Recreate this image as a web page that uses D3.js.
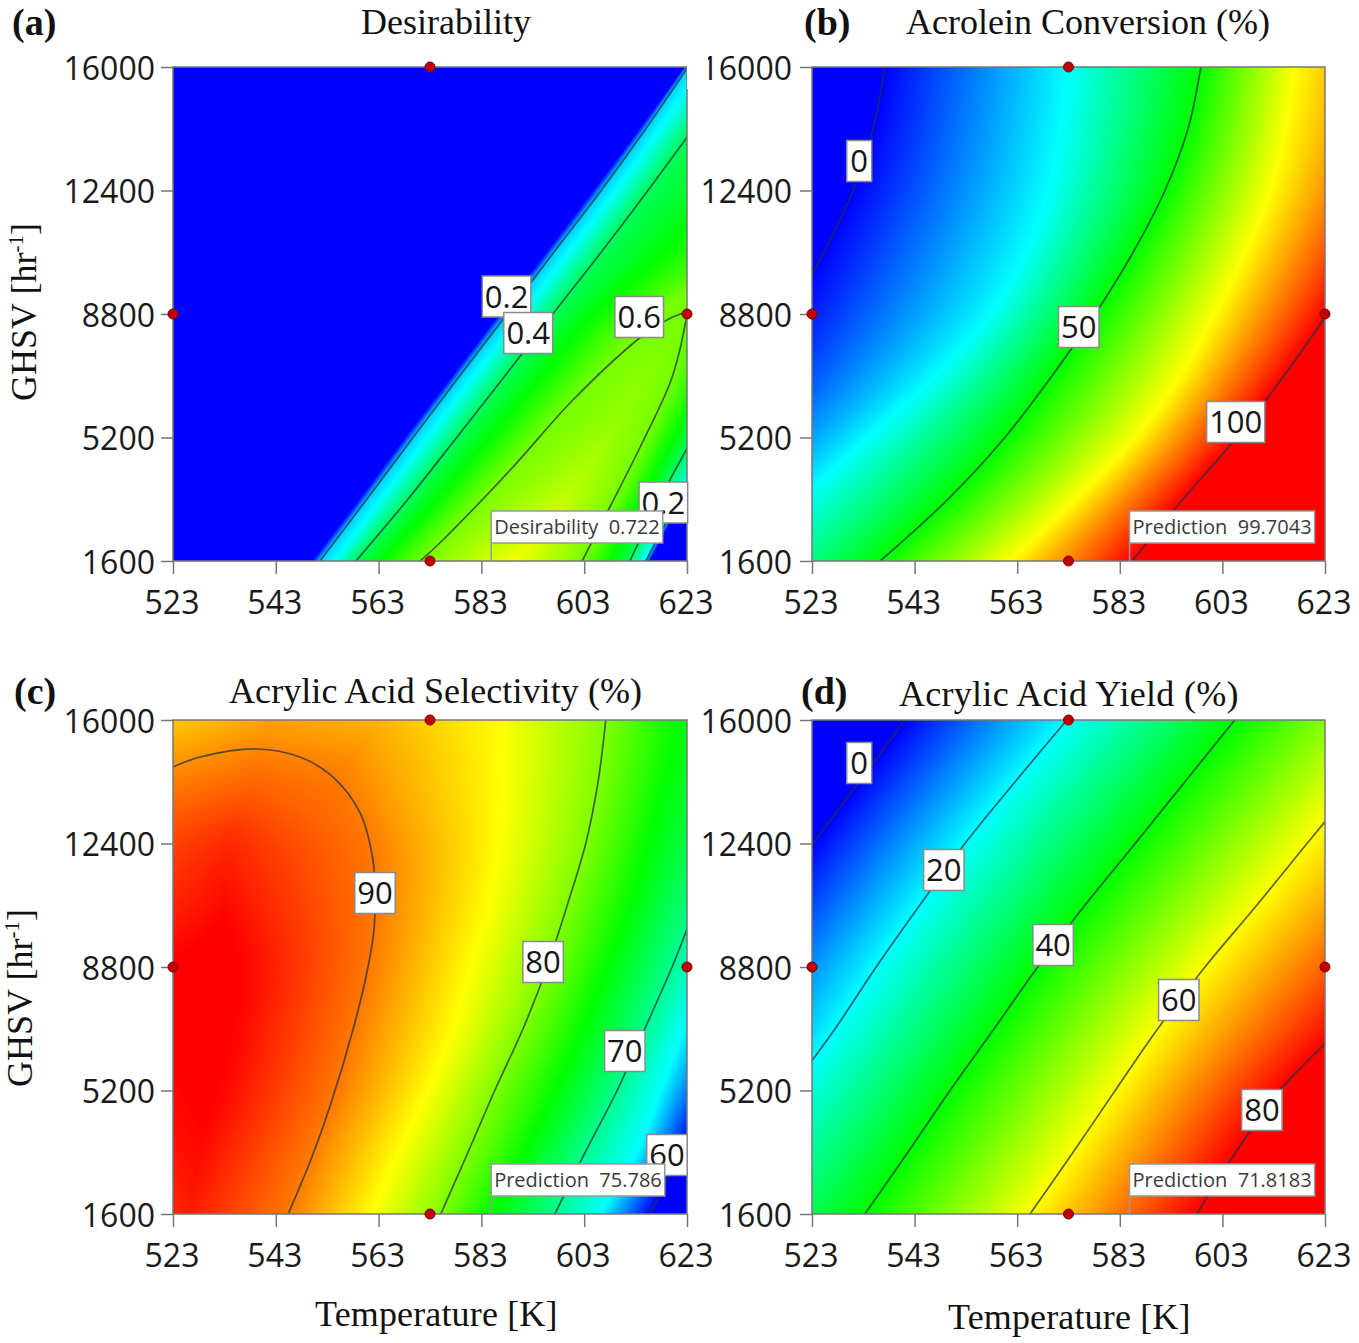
<!DOCTYPE html>
<html>
<head>
<meta charset="utf-8">
<script src="https://cdn.jsdelivr.net/npm/d3@7"></script>
<style>
html,body{margin:0;padding:0;background:#fff;}
svg{display:block;}
</style>
</head>
<body>
<svg id="chart" width="1359" height="1343"></svg>
<script>
// ---------- axes ----------
const temperatureTicks = [523, 543, 563, 583, 603, 623];
const ghsvTicks = [1600, 5200, 8800, 12400, 16000];
const designPoints = [[573, 1600], [573, 16000], [523, 8800], [623, 8800]];
const ghsvRows = [1600, 3400, 5200, 7000, 8800, 10600, 12400, 14200, 16000];

// ---------- (a) Desirability: temperature of each iso-value per GHSV row ----------
const desirabilityStops = [0, 0.25, 0.48, 0.74, 0.98];
const aZeroLeft   = [550.0, 559.2, 568.1, 577.3, 586.4, 595.6, 604.7, 613.7, 622.4];
const a02Left     = [551.6, 560.7, 569.7, 578.8, 588.0, 597.1, 606.3, 615.0, 623.2];
const a025Left    = [554.3, 563.4, 572.4, 581.5, 590.7, 599.8, 609.0, 617.6, 625.5];
const a04Left     = [558.6, 568.7, 578.2, 587.6, 596.9, 606.3, 615.4, 624.2, 632.9];
const a06Left     = [571.2, 582.7, 594.2, 605.5, 616.8, 636.0, 650.8, 664.4, 678.1];
const aRidge      = [589.5, 599.2, 607.3, 614.8, 623.4, 639.1, 652.8, 666.4, 680.0];
const aRidgeValue = [0.73, 0.68, 0.64, 0.62, 0.60, 0.60, 0.60, 0.60, 0.60];
const a06Right    = [602.6, 609.0, 614.8, 620.1, 623.8, 641.1, 654.7, 668.3, 682.0];
const a04Right    = [611.9, 617.7, 624.2, 631.4, 639.1, 650.8, 664.4, 678.1, 691.7];
const a025Right   = [614.6, 621.0, 629.4, 637.6, 646.0, 656.7, 670.3, 683.9, 697.5];
const a02Right    = [615.0, 621.6, 630.4, 638.2, 646.9, 657.6, 671.2, 684.9, 698.5];
const aZeroRight  = [615.8, 622.4, 631.4, 639.1, 647.9, 658.6, 672.2, 685.8, 699.5];
const a06ContourT = [571.1, 574.9, 588.6, 600.8, 613.3, 617.7, 621.2, 623.0, 622.6, 621.6, 619.7, 613.9, 608.0, 602.6];
const a06ContourG = [1600, 2125, 4253, 6293, 8042, 8508, 8771, 8829, 8479, 7751, 6789, 4923, 3174, 1600];

// ---------- (b) Acrolein conversion ----------
const conversionStops = [0, 25, 50, 75, 100];
const b0   = [485.6, 494.4, 503.1, 511.3, 518.7, 525.3, 531.0, 534.9, 537.2];
const b25  = [509.0, 520.7, 533.9, 547.0, 557.7, 564.5, 569.0, 571.3, 572.9];
const b50  = [536.3, 549.5, 560.6, 569.8, 578.2, 585.6, 591.8, 596.3, 598.8];
const b75  = [561.6, 574.3, 586.0, 594.7, 601.5, 607.4, 612.3, 615.2, 617.1];
const b100 = [585.4, 595.3, 605.8, 615.0, 623.4, 630.8, 637.6, 643.5, 647.3];

// ---------- (c) Acrylic acid selectivity ----------
const selectivityStops = [60, 66, 75, 85, 94.5];
const cLeftEdge     = [523, 523, 523, 523, 523, 523, 523, 523, 523];
const cLeftValue    = [93.0, 93.8, 94.3, 94.5, 94.5, 93.2, 92.0, 89.8, 87.0];
const cRidge        = [526.3, 528.3, 530.2, 531.2, 532.1, 533.1, 534.1, 538.0, 541.9];
const cRidgeValue   = [93.5, 94.2, 94.8, 95.2, 95.2, 94.2, 93.0, 90.7, 88.5];
const c90Side       = [545.4, 549.8, 554.9, 558.2, 561.1, 562.3, 561.3, 555.1, 563.3];
const c90SideValue  = [90, 90, 90, 90, 90, 90, 90, 90, 87.8];
const c85 = [561.7, 566.8, 572.6, 577.5, 580.8, 584.3, 586.4, 587.0, 587.0];
const c80 = [575.1, 580.4, 585.6, 591.1, 595.8, 599.7, 603.3, 605.7, 607.2];
const c75 = [584.7, 591.5, 597.3, 602.8, 607.4, 611.9, 615.4, 618.7, 621.6];
const c70 = [597.3, 603.2, 609.4, 614.8, 620.1, 624.9, 630.4, 635.3, 639.1];
const c66 = [606.1, 613.3, 617.9, 622.4, 627.5, 633.3, 639.1, 645.0, 650.8];
const c60 = [615.8, 621.8, 627.9, 634.3, 641.1, 647.9, 654.7, 661.5, 668.3];
const c90ContourT = [523, 528.3, 539.3, 547.7, 554.1, 559.4, 561.9, 562.3, 562.1, 560.7, 558.0, 553.5, 549.8, 545.4];
const c90ContourG = [14630, 14920, 15155, 14920, 14340, 13290, 11920, 10957, 9879, 8625, 6964, 4719, 3174, 1600];

// ---------- (d) Acrylic acid yield ----------
const yieldStops = [0, 20, 40, 60, 80];
const d0  = [471.0, 479.7, 488.5, 497.3, 506.0, 514.8, 523.2, 532.2, 541.1];
const d20 = [501.2, 509.9, 518.7, 527.5, 535.5, 544.0, 552.8, 562.6, 572.7];
const d40 = [533.3, 541.7, 549.9, 558.5, 567.0, 576.2, 586.0, 595.7, 605.4];
const d60 = [565.5, 573.9, 582.1, 590.4, 599.6, 609.7, 619.5, 629.4, 639.6];
const d80 = [598.0, 605.6, 614.2, 625.9, 637.6, 649.3, 661.0, 672.7, 684.4];

// ---------- contour labels ----------
const aLabels = ["0.2", "0.4", "0.6", "0.2"];
const aLabelT = [587.9, 592.1, 613.7, 618.4];
const aLabelG = [9310, 8246, 8713, 3305];
const bLabels = ["0", "50", "100"];
const bLabelT = [532.2, 575.0, 605.6];
const bLabelG = [13260, 8421, 5652];
const cLabels = ["90", "80", "70", "60"];
const cLabelT = [562.3, 595.0, 610.9, 619.1];
const cLabelG = [10957, 8946, 6351, 3320];
const dLabels = ["0", "20", "40", "60", "80"];
const dLabelT = [532.2, 548.7, 570.0, 594.5, 610.7];
const dLabelG = [14747, 11628, 9441, 7838, 4632];

// ---------- texts ----------
const titles = ["Desirability", "Acrolein Conversion (%)", "Acrylic Acid Selectivity (%)", "Acrylic Acid Yield (%)"];
const panelTags = ["(a)", "(b)", "(c)", "(d)"];
const flagTexts = ["Desirability  0.722", "Prediction  99.7043", "Prediction  75.786", "Prediction  71.8183"];
const flagTemperature = 584.9;

// ---------- layout / style (not data) ----------
const spectrum = ["#0000ff", "#00ffff", "#00ff00", "#ffff00", "#ff0000"];
const rowConst = v => ghsvRows.map(() => v);
const panels = [
  { x0: 173, y0: 67, w: 514, stops: desirabilityStops, yPad: 6,
    knots: [[rowConst(0), aZeroLeft], [rowConst(0.2), a02Left], [rowConst(0.25), a025Left], [rowConst(0.4), a04Left],
            [rowConst(0.6), a06Left], [aRidgeValue, aRidge], [rowConst(0.6), a06Right], [rowConst(0.4), a04Right],
            [rowConst(0.25), a025Right], [rowConst(0.2), a02Right], [rowConst(0), aZeroRight]],
    lines: [a02Left, a04Left, a04Right, a02Right], extra: [a06ContourT, a06ContourG],
    labels: [aLabels, aLabelT, aLabelG], titleX: 361, titleY: 34, tagX: 12, tagY: 35, yTitle: [36, 312], ls: 0 },
  { x0: 812, y0: 67, w: 513, stops: conversionStops, yPad: 8, clipOne: true,
    knots: [[rowConst(0), b0], [rowConst(25), b25], [rowConst(50), b50], [rowConst(75), b75], [rowConst(100), b100]],
    lines: [b0, b50, b100],
    labels: [bLabels, bLabelT, bLabelG], titleX: 906, titleY: 34, tagX: 804, tagY: 35, ls: 0 },
  { x0: 173, y0: 720, w: 514, stops: selectivityStops, yPad: 6,
    knots: [[cLeftValue, cLeftEdge], [cRidgeValue, cRidge], [c90SideValue, c90Side], [rowConst(85), c85], [rowConst(80), c80],
            [rowConst(75), c75], [rowConst(70), c70], [rowConst(66), c66], [rowConst(60), c60]],
    lines: [c80, c70, c60], extra: [c90ContourT, c90ContourG],
    labels: [cLabels, cLabelT, cLabelG], titleX: 229, titleY: 703, tagX: 14, tagY: 704, yTitle: [32, 998], xTitle: [315, 1326], ls: 0.08 },
  { x0: 812, y0: 720, w: 513, stops: yieldStops, yPad: 8,
    knots: [[rowConst(0), d0], [rowConst(20), d20], [rowConst(40), d40], [rowConst(60), d60], [rowConst(80), d80]],
    lines: [d0, d20, d40, d60, d80],
    labels: [dLabels, dLabelT, dLabelG], titleX: 899, titleY: 706, tagX: 801, tagY: 704, xTitle: [948, 1329], ls: 0.28 }
];
const plotH = 494;
const SERIF = '"Liberation Serif","Times New Roman",serif';
const SANS = '"Open Sans",sans-serif';
const svg = d3.select("#chart");

// Catmull-Rom evaluation of a per-row list at a GHSV value
function alongRows(list, g) {
  const step = ghsvRows[1] - ghsvRows[0];
  const u = (g - ghsvRows[0]) / step;
  const i = Math.max(0, Math.min(list.length - 2, Math.floor(u)));
  const t = u - i;
  const p1 = list[i], p2 = list[i + 1];
  const p0 = i > 0 ? list[i - 1] : 2 * p1 - p2;
  const p3 = i + 2 < list.length ? list[i + 2] : 2 * p2 - p1;
  return 0.5 * (2 * p1 + (p2 - p0) * t + (2 * p0 - 5 * p1 + 4 * p2 - p3) * t * t + (3 * p1 - p0 - 3 * p2 + p3) * t * t * t);
}

panels.forEach((p, idx) => {
  const x = d3.scaleLinear().domain([523, 623]).range([p.x0, p.x0 + p.w]);
  const y = d3.scaleLinear().domain([1600, 16000]).range([p.y0 + plotH, p.y0]);
  const colour = d3.scaleLinear().domain(p.stops).range(spectrum).clamp(true);

  // colour field
  const cv = document.createElement("canvas");
  cv.width = p.w; cv.height = plotH;
  const ctx = cv.getContext("2d");
  const img = ctx.createImageData(p.w, plotH);
  for (let j = 0; j < plotH; j++) {
    const g = y.invert(p.y0 + j + 0.5);
    const ks = p.knots.map(k => [alongRows(k[1], g), alongRows(k[0], g)]);
    for (let i = 0; i < p.w; i++) {
      const T = x.invert(p.x0 + i + 0.5);
      let z;
      if (T <= ks[0][0]) z = ks[0][1];
      else if (T >= ks[ks.length - 1][0]) z = ks[ks.length - 1][1];
      else {
        let m = 0;
        while (m < ks.length - 2 && T > ks[m + 1][0]) m++;
        const span = ks[m + 1][0] - ks[m][0];
        const f = span > 1e-6 ? (T - ks[m][0]) / span : 0;
        z = ks[m][1] + (ks[m + 1][1] - ks[m][1]) * f;
      }
      const c = d3.rgb(colour(z));
      const o = (j * p.w + i) * 4;
      img.data[o] = c.r; img.data[o + 1] = c.g; img.data[o + 2] = c.b; img.data[o + 3] = 255;
    }
  }
  ctx.putImageData(img, 0, 0);
  svg.append("image").attr("x", p.x0).attr("y", p.y0).attr("width", p.w).attr("height", plotH)
     .attr("href", cv.toDataURL("image/png"));

  // clip
  const clipId = "clip" + idx;
  svg.append("clipPath").attr("id", clipId).append("rect")
     .attr("x", p.x0).attr("y", p.y0).attr("width", p.w).attr("height", plotH);

  // contours
  const line = d3.line().x(d => x(d[0])).y(d => y(d[1])).curve(d3.curveCatmullRom);
  const gC = svg.append("g").attr("clip-path", `url(#${clipId})`);
  const paths = p.lines.map(l => l.map((T, i) => [T, ghsvRows[i]]));
  if (p.extra) paths.push(p.extra[0].map((T, i) => [T, p.extra[1][i]]));
  gC.selectAll("path").data(paths).join("path")
    .attr("d", line).attr("fill", "none")
    .attr("stroke", "rgba(35,50,70,0.75)").attr("stroke-width", 1.7);

  // frame
  svg.append("rect").attr("x", p.x0).attr("y", p.y0).attr("width", p.w).attr("height", plotH)
     .attr("fill", "none").attr("stroke", "#777").attr("stroke-width", 1.5);

  // axes
  const xAxis = d3.axisBottom(x).tickValues(temperatureTicks).tickSize(13).tickPadding(17).tickFormat(d3.format("d"));
  const yAxis = d3.axisLeft(y).tickValues(ghsvTicks).tickSize(12).tickPadding(p.yPad).tickFormat(d3.format("d"));
  const gx = svg.append("g").attr("transform", `translate(0,${p.y0 + plotH})`).call(xAxis);
  const gy = svg.append("g").attr("transform", `translate(${p.x0},0)`).call(yAxis);
  [gx, gy].forEach(a => {
    a.select(".domain").remove();
    a.selectAll("line").attr("stroke", "#777").attr("stroke-width", 1.5);
    a.selectAll("text").attr("font-family", SANS).attr("font-size", 32).attr("fill", "#1a1a1a");
  });
  gx.selectAll("text").attr("dx", -1.5);
  gy.selectAll("text").attr("dy", "0.39em");
  if (p.clipOne) {
    // the first digit of the top tick is cut in the source figure
    svg.append("rect").attr("x", p.x0 - 125).attr("y", y(16000) - 22).attr("width", 21).attr("height", 13).attr("fill", "#fff");
    svg.append("rect").attr("x", p.x0 - 125).attr("y", y(16000) - 22).attr("width", 21).attr("height", 44).attr("fill", "#fff");
  }

  // contour labels
  p.labels[0].forEach((s, i) => {
    const cx = x(p.labels[1][i]), cy = y(p.labels[2][i]);
    const g = svg.append("g");
    const t = g.append("text").attr("x", cx).attr("y", cy).attr("text-anchor", "middle").attr("dy", "0.36em")
      .attr("font-family", SANS).attr("font-size", 31).attr("fill", "#161616").text(s);
    const bb = t.node().getBBox();
    const bw = s.length === 1 ? 25 : bb.width + 5;
    g.insert("rect", "text").attr("x", cx - bw / 2).attr("y", cy - 20.5).attr("width", bw).attr("height", 41)
      .attr("fill", "#fff").attr("stroke", "#8a8a8a").attr("stroke-width", 1.5);
  });

  // design points
  svg.append("g").selectAll("circle").data(designPoints).join("circle")
    .attr("cx", d => x(d[0])).attr("cy", d => y(d[1])).attr("r", 5)
    .attr("fill", "#c00000").attr("stroke", "#7a0000").attr("stroke-width", 1);

  // prediction flag
  const fx = x(flagTemperature), fy = y(1600);
  const flag = svg.append("g");
  flag.append("line").attr("x1", fx).attr("x2", fx).attr("y1", fy - 19).attr("y2", fy)
      .attr("stroke", "#999").attr("stroke-width", 1.5);
  const ft = flag.append("text").attr("x", fx + 3).attr("y", fy - 27)
      .style("white-space", "pre").attr("font-family", SANS).attr("font-size", 20).attr("fill", "#3a3a3a").text(flagTexts[idx]);
  const fb = ft.node().getBBox();
  flag.insert("rect", "text").attr("x", fx).attr("y", fy - 50).attr("width", fb.width + 6).attr("height", 32)
      .attr("fill", "#fff").attr("stroke", "#999").attr("stroke-width", 1.5);

  // titles
  svg.append("text").attr("x", p.titleX).attr("y", p.titleY).attr("font-family", SERIF).attr("font-size", 36)
     .attr("letter-spacing", p.ls).attr("fill", "#111").text(titles[idx]);
  svg.append("text").attr("x", p.tagX).attr("y", p.tagY).attr("font-family", SERIF).attr("font-size", 38)
     .attr("font-weight", "bold").attr("fill", "#111").text(panelTags[idx]);

  if (p.yTitle) {
    const t = svg.append("text").attr("transform", `translate(${p.yTitle[0]},${p.yTitle[1]}) rotate(-90)`)
      .attr("text-anchor", "middle").attr("font-family", SERIF).attr("font-size", 36).attr("fill", "#111");
    t.append("tspan").text("GHSV [hr");
    t.append("tspan").attr("dy", -13).attr("font-size", 21).text("-1");
    t.append("tspan").attr("dy", 13).text("]");
  }
  if (p.xTitle) {
    svg.append("text").attr("x", p.xTitle[0]).attr("y", p.xTitle[1]).attr("font-family", SERIF).attr("font-size", 36)
       .attr("letter-spacing", 0.15).attr("fill", "#111").text("Temperature [K]");
  }
});
</script>
</body>
</html>
